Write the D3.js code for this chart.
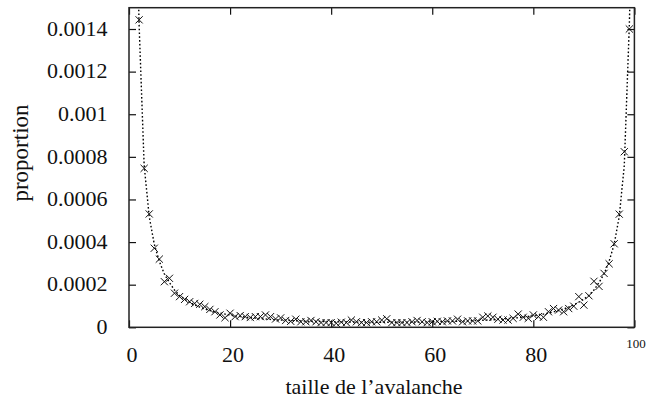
<!DOCTYPE html>
<html>
<head>
<meta charset="utf-8">
<script src="https://cdn.jsdelivr.net/npm/d3@7"></script>
<style>
  html, body { margin: 0; padding: 0; background: #fff; }
  svg { display: block; }
</style>
</head>
<body>
<svg id="chart" width="646" height="400"></svg>
<script>
// ---- data ----
const pointX = [2,3,4,5,6,7,8,9,10,11,12,13,14,15,16,17,18,19,20,21,22,23,24,25,26,27,28,29,30,
  31,32,33,34,35,36,37,38,39,40,41,42,43,44,45,46,47,48,49,50,51,52,53,54,55,56,57,58,59,60,
  61,62,63,64,65,66,67,68,69,70,71,72,73,74,75,76,77,78,79,80,81,82,83,84,85,86,87,88,89,90,
  91,92,93,94,95,96,97,98,99];
const pointY = [144.3e-5,74.6e-5,53.2e-5,37.1e-5,32.0e-5,21.4e-5,23.0e-5,16.0e-5,14.4e-5,13.1e-5,
  12.0e-5,11.2e-5,10.8e-5,9.7e-5,8.4e-5,7.3e-5,5.8e-5,4.5e-5,6.6e-5,5.0e-5,
  5.5e-5,5.0e-5,4.6e-5,5.0e-5,5.0e-5,5.8e-5,5.0e-5,3.9e-5,4.4e-5,3.2e-5,
  2.8e-5,3.8e-5,2.6e-5,2.6e-5,3.2e-5,2.6e-5,2.2e-5,2.2e-5,2.2e-5,1.9e-5,
  2.4e-5,2.2e-5,3.4e-5,2.6e-5,2.2e-5,2.2e-5,2.6e-5,2.6e-5,3.4e-5,4.0e-5,
  2.2e-5,2.2e-5,2.2e-5,2.2e-5,2.6e-5,3.2e-5,2.6e-5,2.2e-5,2.6e-5,2.8e-5,
  2.6e-5,3.0e-5,3.0e-5,3.8e-5,2.6e-5,3.0e-5,3.0e-5,3.0e-5,4.7e-5,5.3e-5,
  4.7e-5,3.8e-5,3.4e-5,3.4e-5,4.2e-5,6.2e-5,4.7e-5,4.2e-5,5.8e-5,5.0e-5,
  4.7e-5,7.3e-5,8.8e-5,8.1e-5,7.3e-5,8.8e-5,9.9e-5,14.4e-5,10.4e-5,14.8e-5,
  21.6e-5,19.2e-5,25.3e-5,29.8e-5,39.2e-5,53.1e-5,82.4e-5,140.0e-5];

const curveX = [1,2,3,4,5,6,7,8,9,10,11,12,13,14,15,16,17,18,19,20,21,22,23,24,25,26,27,28,29,30,
  31,32,33,34,35,36,37,38,39,40,41,42,43,44,45,46,47,48,49,50,51,52,53,54,55,56,57,58,59,60,
  61,62,63,64,65,66,67,68,69,70,71,72,73,74,75,76,77,78,79,80,81,82,83,84,85,86,87,88,89,90,
  91,92,93,94,95,96,97,98,99,100];
const curveY = [240e-5,142e-5,76e-5,52e-5,39e-5,31e-5,25e-5,21e-5,17.5e-5,15e-5,
  13.2e-5,11.8e-5,10.5e-5,9.5e-5,8.6e-5,7.9e-5,7.2e-5,6.7e-5,6.2e-5,5.8e-5,
  5.4e-5,5.1e-5,4.8e-5,4.5e-5,4.3e-5,4.1e-5,3.9e-5,3.7e-5,3.55e-5,3.4e-5,
  3.3e-5,3.2e-5,3.1e-5,3.0e-5,2.9e-5,2.85e-5,2.8e-5,2.75e-5,2.7e-5,2.65e-5,
  2.6e-5,2.55e-5,2.5e-5,2.5e-5,2.45e-5,2.45e-5,2.4e-5,2.4e-5,2.4e-5,2.4e-5,
  2.4e-5,2.4e-5,2.4e-5,2.4e-5,2.45e-5,2.45e-5,2.5e-5,2.5e-5,2.55e-5,2.6e-5,
  2.65e-5,2.7e-5,2.75e-5,2.8e-5,2.85e-5,2.9e-5,3.0e-5,3.1e-5,3.2e-5,3.3e-5,
  3.4e-5,3.55e-5,3.7e-5,3.9e-5,4.1e-5,4.3e-5,4.5e-5,4.8e-5,5.1e-5,5.4e-5,
  5.8e-5,6.2e-5,6.7e-5,7.2e-5,7.9e-5,8.6e-5,9.5e-5,10.5e-5,11.8e-5,13.2e-5,
  15e-5,17.5e-5,21e-5,25e-5,31e-5,39e-5,52e-5,76e-5,142e-5,240e-5];

const xTicks = [0, 20, 40, 60, 80, 100];
const yTicks = [0, 0.0002, 0.0004, 0.0006, 0.0008, 0.001, 0.0012, 0.0014];
const xDomain = [0, 100];
const yDomain = [0, 0.0015];
const xTitle = "taille de l\u2019avalanche";
const yTitle = "proportion";

// ---- layout ----
const plot = { left: 129, right: 634.4, top: 7.7, bottom: 327.3 };
const FONT = 22;
const SERIF = '"Liberation Serif"';

const svg = d3.select("#chart");
const x = d3.scaleLinear().domain(xDomain).range([plot.left, plot.right]);
const y = d3.scaleLinear().domain(yDomain).range([plot.bottom, plot.top]);

const yFmt = d => d === 0 ? "0" : String(+d.toFixed(4));

svg.append("defs").append("clipPath").attr("id", "clip")
  .append("rect")
  .attr("x", plot.left).attr("y", plot.top)
  .attr("width", plot.right - plot.left).attr("height", plot.bottom - plot.top);

const gl = svg.append("g").attr("transform", `translate(${plot.left},0)`)
  .call(d3.axisLeft(y).tickValues(yTicks).tickFormat(yFmt).tickSize(-7).tickPadding(21.5));
const gr = svg.append("g").attr("transform", `translate(${plot.right},0)`)
  .call(d3.axisRight(y).tickValues(yTicks).tickFormat("").tickSize(-7));
const gb = svg.append("g").attr("transform", `translate(0,${plot.bottom})`)
  .call(d3.axisBottom(x).tickValues(xTicks).tickFormat(d3.format("d")).tickSize(-7).tickPadding(19));
const gt = svg.append("g").attr("transform", `translate(0,${plot.top})`)
  .call(d3.axisTop(x).tickValues(xTicks).tickFormat("").tickSize(-7));

[gl, gr, gb, gt].forEach(g => {
  g.select(".domain").remove();
  g.selectAll(".tick line").attr("stroke", "#111").attr("stroke-width", 1.2);
  g.selectAll("text").style("font-family", SERIF).style("font-size", FONT + "px").attr("fill", "#111");
});
gl.selectAll(".tick text").attr("dy", "0.28em");
gb.selectAll(".tick text").attr("dx", 2.5);
gb.selectAll(".tick text").filter(d => d === 100)
  .style("font-size", "13px").attr("dx", 1).attr("y", 11).attr("dy", "0.71em");

svg.append("rect")
  .attr("x", plot.left).attr("y", plot.top)
  .attr("width", plot.right - plot.left).attr("height", plot.bottom - plot.top)
  .attr("fill", "none").attr("stroke", "#222").attr("stroke-width", 1.5);

const line = d3.line().x((d, i) => x(curveX[i])).y(d => y(d));
svg.append("path")
  .attr("clip-path", "url(#clip)")
  .attr("d", line(curveY))
  .attr("fill", "none").attr("stroke", "#000").attr("stroke-width", 1.4)
  .attr("stroke-dasharray", "1.6,2.2");

const s = 3.6;
const pts = svg.append("g").attr("clip-path", "url(#clip)");
pts.selectAll("path.pt").data(pointY).join("path")
  .attr("class", "pt")
  .attr("d", (d, i) => {
    const cx = x(pointX[i]), cy = y(d);
    return `M${cx - s},${cy - s}L${cx + s},${cy + s}M${cx - s},${cy + s}L${cx + s},${cy - s}`;
  })
  .attr("fill", "none").attr("stroke", "#111").attr("stroke-width", 1);

svg.append("text")
  .attr("x", 374).attr("y", 394)
  .attr("text-anchor", "middle")
  .style("font-family", SERIF).style("font-size", FONT + "px")
  .attr("fill", "#111")
  .text(xTitle);

svg.append("text")
  .attr("transform", "translate(28,153) rotate(-90)")
  .attr("text-anchor", "middle")
  .style("font-family", SERIF).style("font-size", "23px")
  .attr("fill", "#111")
  .text(yTitle);
</script>
</body>
</html>
